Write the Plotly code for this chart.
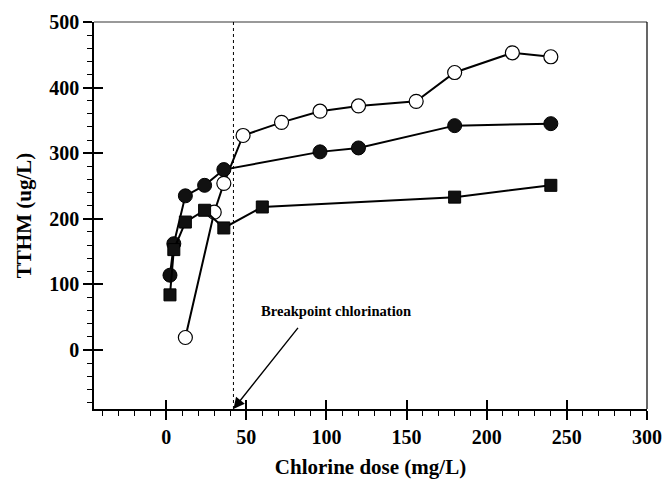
import plotly.graph_objects as go

# ---- data ----
open_dose = [12, 30, 36, 48, 72, 96, 120, 156, 180, 216, 240]
open_tthm = [19, 210, 254, 327, 347, 364, 372, 379, 423, 453, 447]

filled_dose = [2.4, 4.8, 12, 24, 36, 96, 120, 180, 240]
filled_tthm = [114, 162, 235, 251, 275, 302, 308, 342, 345]

square_dose = [2.4, 4.8, 12, 24, 36, 60, 180, 240]
square_tthm = [84, 153, 195, 213, 186, 218, 233, 251]

breakpoint_dose = 42
arrow_tail = (83, 36)
label_pos = (58, 59)
annotation_text = "Breakpoint chlorination"
x_title = "Chlorine dose (mg/L)"
y_title = "TTHM (ug/L)"

X_RANGE = [-45, 300]
Y_RANGE = [-90, 500]

FONT = "Liberation Serif"

fig = go.Figure()

fig.add_trace(go.Scatter(
    x=open_dose, y=open_tthm, mode="lines+markers",
    line=dict(color="black", width=2),
    marker=dict(symbol="circle", size=14, color="white",
                line=dict(color="black", width=1.2)),
    showlegend=False))
fig.add_trace(go.Scatter(
    x=filled_dose, y=filled_tthm, mode="lines+markers",
    line=dict(color="black", width=2),
    marker=dict(symbol="circle", size=14, color="#111",
                line=dict(color="black", width=1)),
    showlegend=False))
fig.add_trace(go.Scatter(
    x=square_dose, y=square_tthm, mode="lines+markers",
    line=dict(color="black", width=2),
    marker=dict(symbol="square", size=12, color="#111",
                line=dict(color="black", width=1)),
    showlegend=False))

# empty trace so the overlay axes (for crossing major ticks) are drawn
fig.add_trace(go.Scatter(x=[], y=[], xaxis="x2", yaxis="y2", showlegend=False))

tickfont = dict(family=FONT, size=20, color="black")

fig.update_layout(
    width=663, height=479,
    margin=dict(l=94, r=16, t=22, b=70),
    paper_bgcolor="white", plot_bgcolor="white",
    font=dict(family=FONT, color="black"),
    xaxis=dict(
        range=X_RANGE, dtick=50, tick0=0, automargin=False,
        showgrid=False, zeroline=False,
        showline=True, linecolor="black", linewidth=1.5,
        ticks="outside", ticklen=9, tickwidth=1.5, tickcolor="black",
        minor=dict(dtick=10, ticks="outside", ticklen=5, tickwidth=1, tickcolor="black"),
        tickfont=tickfont, tickprefix="<b>", ticksuffix="</b>",
        title=dict(text="<b>" + x_title + "</b>",
                   font=dict(family=FONT, size=21, color="black"), standoff=14),
    ),
    xaxis2=dict(
        overlaying="x", range=X_RANGE, anchor="y2", side="bottom", automargin=False,
        dtick=50, tick0=0, showgrid=False, zeroline=False, showline=False,
        ticks="inside", ticklen=9, tickwidth=1.5, tickcolor="black",
        showticklabels=False,
    ),
    yaxis=dict(
        range=Y_RANGE, dtick=100, tick0=0, automargin=False,
        showgrid=False, zeroline=False,
        showline=True, linecolor="black", linewidth=1.5,
        ticks="outside", ticklen=9, tickwidth=1.5, tickcolor="black",
        minor=dict(dtick=20, ticks="outside", ticklen=5, tickwidth=1, tickcolor="black"),
        tickfont=tickfont, tickprefix="<b>", ticksuffix="</b>",
        title=dict(text="<b>" + y_title + "</b>",
                   font=dict(family=FONT, size=21, color="black"), standoff=12),
    ),
    yaxis2=dict(
        overlaying="y", range=Y_RANGE, anchor="x2", side="left", automargin=False,
        dtick=100, tick0=0, showgrid=False, zeroline=False, showline=False,
        ticks="inside", ticklen=9, tickwidth=1.5, tickcolor="black",
        showticklabels=False,
    ),
)

# frame: top (grey) and right lines
fig.add_shape(type="line", xref="paper", yref="paper", x0=0, x1=1, y0=1, y1=1,
              line=dict(color="#777", width=1.5))
fig.add_shape(type="line", xref="paper", yref="paper", x0=1, x1=1, y0=0, y1=1,
              line=dict(color="black", width=1.2))

# breakpoint dotted line
fig.add_shape(type="line", xref="x", yref="paper", x0=breakpoint_dose, x1=breakpoint_dose,
              y0=0, y1=1, line=dict(color="black", width=1, dash="dot"))

# arrow
fig.add_annotation(x=breakpoint_dose, y=Y_RANGE[0], xref="x", yref="y",
                   ax=arrow_tail[0], ay=arrow_tail[1], axref="x", ayref="y",
                   text="", showarrow=True, arrowhead=2, arrowsize=1.6,
                   arrowwidth=1.4, arrowcolor="black")
# annotation label
fig.add_annotation(x=label_pos[0], y=label_pos[1], xref="x", yref="y",
                   xanchor="left", yanchor="middle",
                   text="<b>" + annotation_text + "</b>", showarrow=False,
                   font=dict(family=FONT, size=14.6, color="black"))

fig.write_html("out.html", config={"displayModeBar": False},
               post_script="document.body.style.margin='0';document.body.style.overflow='hidden';")
